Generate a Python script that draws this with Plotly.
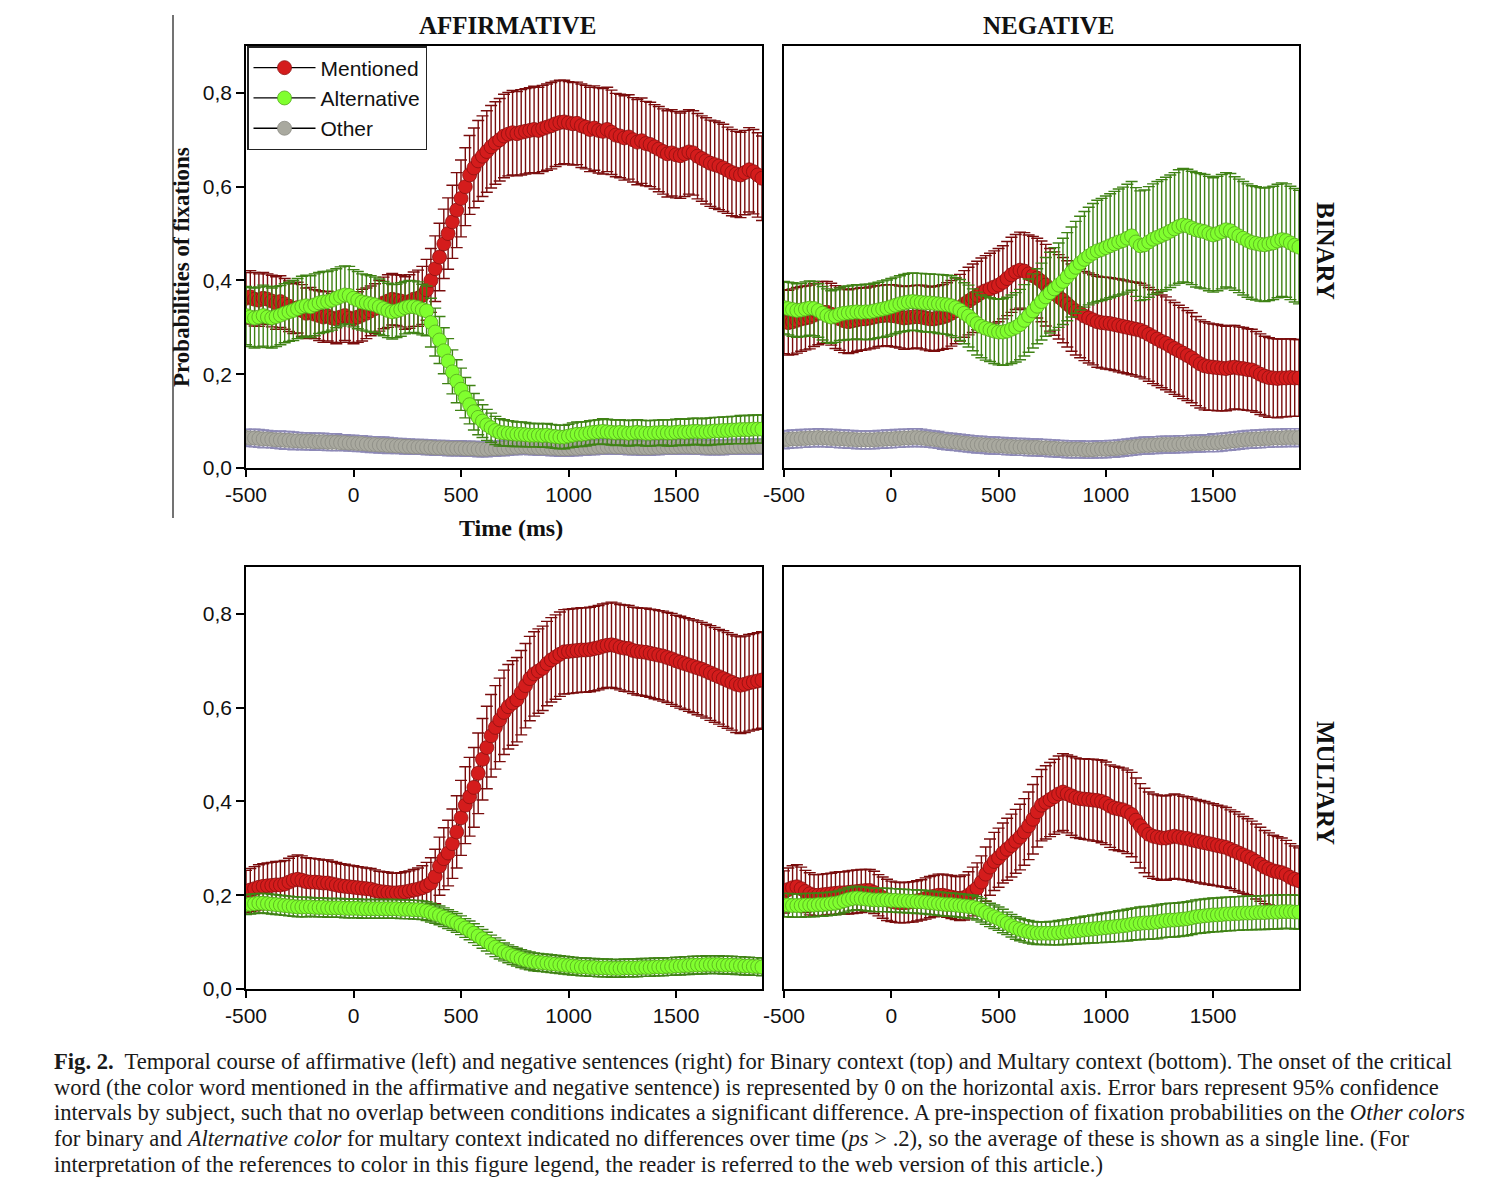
import plotly.graph_objects as go

# ---------------- data ----------------
TIME = list(range(-500, 1901, 20))  # 20 ms bins, 121 points
X_TICKS = [-500, 0, 500, 1000, 1500]
X_TICK_TEXT = ["-500", "0", "500", "1000", "1500"]
Y_TICKS = [0.0, 0.2, 0.4, 0.6, 0.8]
Y_TICK_TEXT = ["0,0", "0,2", "0,4", "0,6", "0,8"]
SERIES_NAMES = ["Mentioned", "Alternative", "Other"]

# Binary context, affirmative (top-left)
TL_MENT = [0.362, 0.365, 0.360, 0.358, 0.362, 0.360, 0.356, 0.352, 0.355, 0.350,
           0.345, 0.340, 0.342, 0.336, 0.330, 0.332, 0.328, 0.325, 0.322, 0.324,
           0.320, 0.318, 0.322, 0.325, 0.320, 0.318, 0.322, 0.326, 0.330, 0.335,
           0.340, 0.346, 0.352, 0.356, 0.360, 0.358, 0.356, 0.352, 0.355, 0.360,
           0.362, 0.368, 0.380, 0.400, 0.425, 0.450, 0.478, 0.500, 0.525, 0.550,
           0.575, 0.600, 0.625, 0.640, 0.655, 0.665, 0.675, 0.685, 0.693, 0.700,
           0.708, 0.712, 0.715, 0.713, 0.716, 0.718, 0.720, 0.722, 0.720, 0.724,
           0.727, 0.730, 0.734, 0.737, 0.738, 0.736, 0.734, 0.735, 0.730, 0.727,
           0.722, 0.725, 0.720, 0.718, 0.722, 0.716, 0.710, 0.708, 0.704, 0.706,
           0.700, 0.695, 0.698, 0.692, 0.690, 0.685, 0.680, 0.675, 0.670, 0.672,
           0.668, 0.666, 0.670, 0.674, 0.672, 0.665, 0.660, 0.655, 0.650, 0.647,
           0.644, 0.640, 0.635, 0.630, 0.627, 0.625, 0.630, 0.636, 0.632, 0.625,
           0.618]
TL_MENT_ERR = [0.055, 0.056, 0.057, 0.056, 0.055, 0.054, 0.055, 0.056, 0.055, 0.054,
               0.054, 0.053, 0.054, 0.055, 0.054, 0.053, 0.052, 0.053, 0.054, 0.053,
               0.052, 0.053, 0.054, 0.053, 0.052, 0.053, 0.054, 0.055, 0.054, 0.053,
               0.053, 0.054, 0.055, 0.056, 0.055, 0.054, 0.055, 0.056, 0.057, 0.058,
               0.060, 0.062, 0.065, 0.068, 0.070, 0.072, 0.074, 0.076, 0.078, 0.080,
               0.082, 0.083, 0.084, 0.085, 0.086, 0.086, 0.087, 0.088, 0.088, 0.088,
               0.089, 0.089, 0.090, 0.090, 0.091, 0.091, 0.091, 0.092, 0.092, 0.092,
               0.092, 0.092, 0.091, 0.090, 0.089, 0.088, 0.088, 0.088, 0.089, 0.089,
               0.090, 0.090, 0.091, 0.091, 0.090, 0.090, 0.089, 0.089, 0.090, 0.090,
               0.090, 0.091, 0.091, 0.090, 0.090, 0.090, 0.091, 0.091, 0.092, 0.092,
               0.092, 0.091, 0.091, 0.090, 0.090, 0.091, 0.091, 0.092, 0.092, 0.093,
               0.093, 0.093, 0.092, 0.092, 0.091, 0.091, 0.090, 0.090, 0.090, 0.090,
               0.090]
TL_ALT = [0.325, 0.322, 0.320, 0.322, 0.325, 0.322, 0.320, 0.323, 0.326, 0.330,
          0.333, 0.336, 0.340, 0.344, 0.346, 0.344, 0.348, 0.352, 0.354, 0.355,
          0.358, 0.362, 0.366, 0.369, 0.368, 0.362, 0.358, 0.354, 0.352, 0.350,
          0.348, 0.344, 0.340, 0.336, 0.333, 0.335, 0.338, 0.342, 0.344, 0.344,
          0.342, 0.338, 0.335, 0.310, 0.290, 0.273, 0.250, 0.228, 0.205, 0.185,
          0.168, 0.150, 0.135, 0.120, 0.108, 0.100, 0.092, 0.086, 0.080, 0.076,
          0.075, 0.074, 0.073, 0.072, 0.072, 0.071, 0.070, 0.070, 0.070, 0.069,
          0.070, 0.068, 0.067, 0.066, 0.066, 0.068, 0.070, 0.072, 0.072, 0.073,
          0.075, 0.076, 0.077, 0.078, 0.077, 0.076, 0.075, 0.076, 0.075, 0.074,
          0.075, 0.076, 0.075, 0.074, 0.074, 0.075, 0.075, 0.076, 0.075, 0.075,
          0.076, 0.077, 0.076, 0.077, 0.078, 0.078, 0.077, 0.077, 0.078, 0.079,
          0.079, 0.080, 0.080, 0.081, 0.081, 0.082, 0.082, 0.082, 0.083, 0.083,
          0.083]
TL_ALT_ERR = [0.062, 0.063, 0.064, 0.064, 0.065, 0.065, 0.064, 0.064, 0.063, 0.063,
              0.063, 0.064, 0.064, 0.065, 0.065, 0.066, 0.066, 0.065, 0.065, 0.064,
              0.064, 0.063, 0.063, 0.062, 0.062, 0.061, 0.061, 0.060, 0.060, 0.060,
              0.059, 0.059, 0.058, 0.058, 0.058, 0.057, 0.057, 0.056, 0.056, 0.055,
              0.055, 0.054, 0.053, 0.052, 0.051, 0.050, 0.049, 0.048, 0.047, 0.046,
              0.045, 0.043, 0.041, 0.039, 0.037, 0.035, 0.033, 0.031, 0.030, 0.029,
              0.028, 0.027, 0.027, 0.026, 0.026, 0.026, 0.025, 0.025, 0.025, 0.025,
              0.025, 0.025, 0.025, 0.025, 0.025, 0.025, 0.026, 0.026, 0.026, 0.026,
              0.026, 0.026, 0.026, 0.027, 0.027, 0.027, 0.027, 0.027, 0.027, 0.027,
              0.027, 0.027, 0.027, 0.027, 0.027, 0.027, 0.027, 0.027, 0.028, 0.028,
              0.028, 0.028, 0.028, 0.028, 0.028, 0.028, 0.028, 0.029, 0.029, 0.029,
              0.029, 0.029, 0.029, 0.029, 0.029, 0.030, 0.030, 0.030, 0.030, 0.030,
              0.030]
TL_OTH = [0.065, 0.064, 0.064, 0.063, 0.062, 0.062, 0.061, 0.060, 0.060, 0.059,
          0.059, 0.058, 0.058, 0.057, 0.057, 0.057, 0.056, 0.056, 0.056, 0.055,
          0.055, 0.055, 0.054, 0.054, 0.053, 0.053, 0.052, 0.052, 0.051, 0.050,
          0.050, 0.049, 0.049, 0.048, 0.048, 0.047, 0.047, 0.046, 0.046, 0.045,
          0.045, 0.045, 0.044, 0.044, 0.043, 0.043, 0.043, 0.042, 0.042, 0.042,
          0.042, 0.041, 0.041, 0.041, 0.040, 0.040, 0.040, 0.041, 0.041, 0.042,
          0.042, 0.043, 0.044, 0.044, 0.045, 0.045, 0.044, 0.044, 0.043, 0.043,
          0.043, 0.042, 0.042, 0.041, 0.041, 0.041, 0.042, 0.042, 0.043, 0.043,
          0.044, 0.044, 0.045, 0.045, 0.046, 0.046, 0.045, 0.045, 0.045, 0.044,
          0.044, 0.044, 0.043, 0.043, 0.043, 0.044, 0.044, 0.045, 0.045, 0.045,
          0.045, 0.046, 0.046, 0.046, 0.045, 0.045, 0.045, 0.044, 0.044, 0.044,
          0.044, 0.044, 0.045, 0.045, 0.045, 0.046, 0.046, 0.046, 0.046, 0.046,
          0.046]
TL_OTH_ERR = [0.018, 0.018, 0.019, 0.019, 0.019, 0.018, 0.018, 0.018, 0.019, 0.019,
              0.019, 0.019, 0.018, 0.018, 0.018, 0.018, 0.018, 0.018, 0.018, 0.018,
              0.018, 0.018, 0.017, 0.017, 0.017, 0.017, 0.017, 0.017, 0.017, 0.017,
              0.017, 0.017, 0.017, 0.017, 0.016, 0.016, 0.016, 0.016, 0.016, 0.016,
              0.016, 0.016, 0.016, 0.016, 0.016, 0.016, 0.016, 0.016, 0.016, 0.016,
              0.016, 0.016, 0.016, 0.016, 0.016, 0.016, 0.016, 0.016, 0.016, 0.016,
              0.016, 0.016, 0.016, 0.016, 0.016, 0.016, 0.016, 0.016, 0.016, 0.016,
              0.016, 0.016, 0.016, 0.016, 0.016, 0.016, 0.016, 0.016, 0.016, 0.016,
              0.016, 0.016, 0.016, 0.016, 0.016, 0.016, 0.016, 0.016, 0.016, 0.016,
              0.016, 0.016, 0.016, 0.016, 0.016, 0.016, 0.016, 0.016, 0.016, 0.016,
              0.016, 0.016, 0.016, 0.016, 0.016, 0.016, 0.016, 0.016, 0.016, 0.016,
              0.016, 0.016, 0.016, 0.016, 0.016, 0.016, 0.016, 0.016, 0.016, 0.016,
              0.016]

# Binary context, negative (top-right)
TR_MENT = [0.312, 0.310, 0.312, 0.315, 0.318, 0.320, 0.322, 0.326, 0.330, 0.332,
           0.332, 0.328, 0.322, 0.318, 0.314, 0.312, 0.314, 0.316, 0.318, 0.318,
           0.320, 0.322, 0.324, 0.325, 0.326, 0.325, 0.324, 0.322, 0.320, 0.321,
           0.322, 0.323, 0.322, 0.320, 0.318, 0.318, 0.320, 0.322, 0.325, 0.330,
           0.335, 0.342, 0.350, 0.356, 0.362, 0.368, 0.374, 0.378, 0.382, 0.386,
           0.390, 0.396, 0.404, 0.412, 0.418, 0.422, 0.420, 0.414, 0.410, 0.405,
           0.398, 0.390, 0.380, 0.372, 0.365, 0.358, 0.350, 0.342, 0.335, 0.330,
           0.324, 0.320, 0.316, 0.312, 0.310, 0.309, 0.308, 0.306, 0.304, 0.302,
           0.300, 0.298, 0.296, 0.294, 0.290, 0.285, 0.280, 0.275, 0.270, 0.266,
           0.260, 0.255, 0.250, 0.245, 0.240, 0.235, 0.228, 0.222, 0.218, 0.216,
           0.215, 0.214, 0.213, 0.212, 0.214, 0.215, 0.213, 0.212, 0.210, 0.209,
           0.205, 0.200, 0.196, 0.193, 0.192, 0.191, 0.192, 0.192, 0.193, 0.192,
           0.192]
TR_MENT_ERR = [0.068, 0.069, 0.070, 0.070, 0.069, 0.068, 0.068, 0.067, 0.067, 0.066,
               0.066, 0.066, 0.067, 0.067, 0.068, 0.068, 0.068, 0.067, 0.067, 0.066,
               0.066, 0.066, 0.065, 0.065, 0.065, 0.066, 0.066, 0.066, 0.067, 0.067,
               0.067, 0.067, 0.068, 0.068, 0.068, 0.069, 0.069, 0.069, 0.070, 0.070,
               0.070, 0.071, 0.071, 0.072, 0.073, 0.073, 0.074, 0.075, 0.076, 0.077,
               0.078, 0.078, 0.079, 0.080, 0.080, 0.081, 0.082, 0.083, 0.084, 0.085,
               0.086, 0.087, 0.088, 0.089, 0.090, 0.091, 0.092, 0.093, 0.094, 0.095,
               0.095, 0.096, 0.096, 0.097, 0.097, 0.098, 0.098, 0.098, 0.099, 0.099,
               0.099, 0.099, 0.100, 0.100, 0.100, 0.100, 0.100, 0.099, 0.099, 0.099,
               0.098, 0.098, 0.097, 0.097, 0.096, 0.096, 0.095, 0.094, 0.094, 0.093,
               0.092, 0.092, 0.091, 0.090, 0.090, 0.089, 0.088, 0.088, 0.087, 0.087,
               0.086, 0.086, 0.085, 0.085, 0.084, 0.084, 0.083, 0.083, 0.083, 0.082,
               0.082]
TR_ALT = [0.342, 0.340, 0.338, 0.336, 0.337, 0.339, 0.341, 0.340, 0.336, 0.330,
          0.325, 0.322, 0.324, 0.328, 0.330, 0.331, 0.332, 0.333, 0.332, 0.333,
          0.333, 0.335, 0.337, 0.339, 0.341, 0.344, 0.347, 0.350, 0.352, 0.354,
          0.355, 0.354, 0.353, 0.352, 0.352, 0.351, 0.350, 0.349, 0.348, 0.346,
          0.342, 0.337, 0.330, 0.324, 0.316, 0.308, 0.302, 0.298, 0.295, 0.292,
          0.290, 0.290, 0.292, 0.296, 0.300, 0.306, 0.315, 0.325, 0.335, 0.345,
          0.355, 0.365, 0.374, 0.382, 0.390, 0.398, 0.408, 0.418, 0.428, 0.437,
          0.445, 0.452, 0.458, 0.463, 0.466, 0.470, 0.474, 0.478, 0.482, 0.485,
          0.490, 0.495, 0.482, 0.474, 0.476, 0.482, 0.488, 0.492, 0.496, 0.500,
          0.505, 0.510, 0.515, 0.518, 0.516, 0.512, 0.508, 0.506, 0.504, 0.500,
          0.497, 0.500, 0.504, 0.508, 0.506, 0.500, 0.495, 0.490, 0.485, 0.481,
          0.479, 0.477, 0.476, 0.478, 0.480, 0.484, 0.487, 0.485, 0.480, 0.475,
          0.471]
TR_ALT_ERR = [0.056, 0.056, 0.057, 0.057, 0.057, 0.058, 0.058, 0.058, 0.057, 0.057,
              0.057, 0.056, 0.056, 0.056, 0.057, 0.057, 0.058, 0.058, 0.058, 0.059,
              0.059, 0.059, 0.059, 0.060, 0.060, 0.060, 0.060, 0.060, 0.061, 0.061,
              0.061, 0.061, 0.062, 0.062, 0.062, 0.062, 0.063, 0.063, 0.063, 0.064,
              0.064, 0.065, 0.065, 0.066, 0.066, 0.067, 0.067, 0.068, 0.068, 0.069,
              0.070, 0.071, 0.072, 0.073, 0.074, 0.075, 0.076, 0.078, 0.079, 0.080,
              0.082, 0.084, 0.086, 0.088, 0.090, 0.092, 0.094, 0.096, 0.098, 0.100,
              0.102, 0.104, 0.106, 0.108, 0.109, 0.110, 0.111, 0.112, 0.113, 0.114,
              0.115, 0.116, 0.116, 0.117, 0.117, 0.118, 0.118, 0.119, 0.119, 0.120,
              0.120, 0.120, 0.121, 0.121, 0.121, 0.121, 0.122, 0.122, 0.122, 0.122,
              0.122, 0.122, 0.122, 0.122, 0.122, 0.121, 0.121, 0.121, 0.121, 0.121,
              0.121, 0.121, 0.121, 0.121, 0.121, 0.121, 0.121, 0.121, 0.121, 0.121,
              0.121]
TR_OTH = [0.060, 0.061, 0.062, 0.062, 0.063, 0.063, 0.064, 0.064, 0.065, 0.064,
          0.064, 0.063, 0.063, 0.062, 0.062, 0.061, 0.061, 0.060, 0.060, 0.060,
          0.060, 0.060, 0.061, 0.061, 0.062, 0.062, 0.063, 0.063, 0.064, 0.064,
          0.065, 0.065, 0.064, 0.063, 0.062, 0.061, 0.060, 0.058, 0.057, 0.056,
          0.055, 0.054, 0.053, 0.052, 0.051, 0.050, 0.050, 0.049, 0.048, 0.048,
          0.047, 0.047, 0.046, 0.046, 0.045, 0.045, 0.045, 0.044, 0.044, 0.044,
          0.043, 0.043, 0.042, 0.042, 0.041, 0.041, 0.040, 0.040, 0.040, 0.040,
          0.039, 0.039, 0.039, 0.040, 0.040, 0.040, 0.041, 0.041, 0.042, 0.043,
          0.044, 0.045, 0.046, 0.047, 0.048, 0.048, 0.049, 0.049, 0.050, 0.050,
          0.050, 0.050, 0.051, 0.051, 0.051, 0.052, 0.052, 0.052, 0.053, 0.053,
          0.054, 0.054, 0.055, 0.056, 0.057, 0.058, 0.059, 0.060, 0.061, 0.061,
          0.062, 0.062, 0.063, 0.063, 0.064, 0.064, 0.064, 0.065, 0.065, 0.065,
          0.065]
TR_OTH_ERR = [0.019, 0.019, 0.019, 0.019, 0.019, 0.019, 0.019, 0.019, 0.019, 0.019,
              0.019, 0.019, 0.019, 0.019, 0.019, 0.019, 0.019, 0.019, 0.019, 0.019,
              0.019, 0.019, 0.019, 0.019, 0.019, 0.019, 0.019, 0.019, 0.019, 0.019,
              0.019, 0.019, 0.019, 0.018, 0.018, 0.018, 0.018, 0.018, 0.018, 0.018,
              0.018, 0.018, 0.018, 0.018, 0.018, 0.018, 0.018, 0.018, 0.018, 0.018,
              0.018, 0.018, 0.018, 0.018, 0.018, 0.018, 0.018, 0.018, 0.018, 0.018,
              0.018, 0.018, 0.018, 0.018, 0.018, 0.018, 0.018, 0.018, 0.018, 0.018,
              0.018, 0.018, 0.018, 0.018, 0.018, 0.018, 0.018, 0.018, 0.018, 0.018,
              0.018, 0.018, 0.018, 0.018, 0.018, 0.018, 0.018, 0.018, 0.018, 0.018,
              0.018, 0.018, 0.018, 0.018, 0.018, 0.018, 0.018, 0.018, 0.018, 0.018,
              0.019, 0.019, 0.019, 0.019, 0.019, 0.019, 0.019, 0.019, 0.019, 0.019,
              0.019, 0.019, 0.019, 0.019, 0.019, 0.019, 0.019, 0.019, 0.019, 0.019,
              0.019]

# Multary context, affirmative (bottom-left)
BL_MENT = [0.208, 0.211, 0.214, 0.217, 0.219, 0.220, 0.221, 0.222, 0.222, 0.224,
           0.228, 0.232, 0.234, 0.232, 0.229, 0.228, 0.228, 0.227, 0.226, 0.226,
           0.224, 0.222, 0.220, 0.219, 0.218, 0.217, 0.216, 0.215, 0.214, 0.213,
           0.210, 0.208, 0.207, 0.206, 0.205, 0.205, 0.206, 0.207, 0.209, 0.211,
           0.213, 0.216, 0.220, 0.226, 0.240, 0.262, 0.278, 0.290, 0.310, 0.335,
           0.365, 0.392, 0.410, 0.430, 0.460, 0.490, 0.515, 0.540, 0.558, 0.574,
           0.590, 0.602, 0.610, 0.617, 0.632, 0.647, 0.662, 0.672, 0.678, 0.684,
           0.694, 0.702, 0.708, 0.714, 0.719, 0.720, 0.721, 0.722, 0.723, 0.723,
           0.724, 0.726, 0.728, 0.731, 0.733, 0.734, 0.732, 0.729, 0.727, 0.726,
           0.722, 0.720, 0.719, 0.718, 0.716, 0.714, 0.712, 0.710, 0.707, 0.704,
           0.700, 0.697, 0.694, 0.691, 0.688, 0.685, 0.682, 0.678, 0.674, 0.670,
           0.666, 0.662, 0.658, 0.654, 0.650, 0.648, 0.650, 0.653, 0.655, 0.657,
           0.659]
BL_MENT_ERR = [0.045, 0.046, 0.047, 0.048, 0.048, 0.049, 0.049, 0.050, 0.050, 0.050,
               0.051, 0.051, 0.052, 0.052, 0.051, 0.051, 0.050, 0.050, 0.049, 0.049,
               0.048, 0.048, 0.047, 0.047, 0.046, 0.046, 0.045, 0.045, 0.044, 0.044,
               0.044, 0.043, 0.043, 0.043, 0.042, 0.042, 0.042, 0.043, 0.043, 0.044,
               0.045, 0.047, 0.050, 0.054, 0.058, 0.062, 0.066, 0.070, 0.074, 0.077,
               0.080, 0.082, 0.084, 0.085, 0.086, 0.087, 0.088, 0.088, 0.089, 0.089,
               0.090, 0.090, 0.090, 0.090, 0.090, 0.090, 0.090, 0.090, 0.090, 0.090,
               0.090, 0.090, 0.090, 0.090, 0.090, 0.090, 0.090, 0.090, 0.090, 0.090,
               0.090, 0.090, 0.090, 0.090, 0.090, 0.091, 0.091, 0.091, 0.092, 0.092,
               0.092, 0.093, 0.093, 0.094, 0.094, 0.095, 0.095, 0.096, 0.096, 0.097,
               0.097, 0.098, 0.098, 0.099, 0.099, 0.100, 0.100, 0.100, 0.101, 0.101,
               0.101, 0.102, 0.102, 0.102, 0.103, 0.103, 0.103, 0.103, 0.103, 0.103,
               0.103]
BL_ALT = [0.180, 0.181, 0.182, 0.183, 0.183, 0.182, 0.181, 0.180, 0.179, 0.178,
          0.177, 0.176, 0.175, 0.175, 0.175, 0.175, 0.174, 0.174, 0.174, 0.173,
          0.173, 0.173, 0.173, 0.172, 0.172, 0.172, 0.172, 0.171, 0.171, 0.171,
          0.171, 0.171, 0.171, 0.171, 0.171, 0.171, 0.170, 0.170, 0.170, 0.169,
          0.169, 0.168, 0.166, 0.163, 0.160, 0.157, 0.153, 0.149, 0.145, 0.141,
          0.136, 0.130, 0.125, 0.119, 0.113, 0.107, 0.101, 0.095, 0.089, 0.084,
          0.079, 0.075, 0.071, 0.068, 0.065, 0.062, 0.060, 0.058, 0.057, 0.056,
          0.055, 0.054, 0.053, 0.052, 0.051, 0.050, 0.049, 0.048, 0.047, 0.047,
          0.046, 0.046, 0.045, 0.045, 0.045, 0.044, 0.044, 0.044, 0.045, 0.045,
          0.045, 0.045, 0.046, 0.046, 0.046, 0.047, 0.047, 0.047, 0.048, 0.048,
          0.049, 0.049, 0.050, 0.050, 0.051, 0.051, 0.051, 0.052, 0.052, 0.052,
          0.052, 0.051, 0.051, 0.051, 0.050, 0.050, 0.049, 0.049, 0.048, 0.048,
          0.047]
BL_ALT_ERR = [0.021, 0.021, 0.021, 0.021, 0.021, 0.021, 0.021, 0.021, 0.021, 0.021,
              0.021, 0.021, 0.021, 0.021, 0.021, 0.020, 0.020, 0.020, 0.020, 0.020,
              0.020, 0.020, 0.020, 0.020, 0.020, 0.020, 0.020, 0.020, 0.020, 0.020,
              0.020, 0.020, 0.020, 0.020, 0.020, 0.020, 0.020, 0.020, 0.020, 0.020,
              0.020, 0.020, 0.020, 0.020, 0.020, 0.020, 0.020, 0.020, 0.020, 0.020,
              0.020, 0.020, 0.020, 0.020, 0.020, 0.020, 0.020, 0.020, 0.020, 0.020,
              0.019, 0.019, 0.019, 0.019, 0.019, 0.019, 0.019, 0.019, 0.019, 0.019,
              0.019, 0.019, 0.019, 0.019, 0.019, 0.019, 0.019, 0.019, 0.019, 0.019,
              0.019, 0.019, 0.019, 0.019, 0.019, 0.019, 0.019, 0.019, 0.019, 0.019,
              0.019, 0.019, 0.019, 0.019, 0.019, 0.019, 0.019, 0.019, 0.019, 0.019,
              0.019, 0.019, 0.019, 0.019, 0.019, 0.019, 0.019, 0.019, 0.019, 0.019,
              0.019, 0.019, 0.019, 0.019, 0.019, 0.019, 0.019, 0.019, 0.019, 0.019,
              0.019]

# Multary context, negative (bottom-right)
BR_MENT = [0.207, 0.212, 0.216, 0.218, 0.214, 0.208, 0.203, 0.200, 0.200, 0.201,
           0.202, 0.203, 0.204, 0.205, 0.205, 0.206, 0.207, 0.208, 0.209, 0.210,
           0.210, 0.206, 0.200, 0.195, 0.190, 0.187, 0.185, 0.184, 0.184, 0.185,
           0.186, 0.188, 0.190, 0.193, 0.196, 0.198, 0.200, 0.200, 0.198, 0.196,
           0.194, 0.193, 0.195, 0.200, 0.208, 0.215, 0.228, 0.245, 0.260, 0.272,
           0.280, 0.290, 0.298, 0.306, 0.315, 0.324, 0.335, 0.348, 0.362, 0.378,
           0.392, 0.398, 0.404, 0.410, 0.416, 0.420, 0.416, 0.412, 0.408, 0.406,
           0.405, 0.404, 0.403, 0.402, 0.400, 0.396, 0.390, 0.386, 0.384, 0.382,
           0.378, 0.372, 0.360, 0.348, 0.338, 0.330, 0.326, 0.324, 0.322, 0.322,
           0.324, 0.326, 0.324, 0.322, 0.321, 0.318, 0.316, 0.314, 0.312, 0.310,
           0.308, 0.306, 0.304, 0.302, 0.298, 0.294, 0.290, 0.286, 0.282, 0.278,
           0.272, 0.266, 0.260, 0.256, 0.252, 0.250, 0.248, 0.244, 0.238, 0.234,
           0.231]
BR_MENT_ERR = [0.045, 0.046, 0.047, 0.047, 0.046, 0.045, 0.045, 0.044, 0.044, 0.044,
               0.044, 0.044, 0.045, 0.045, 0.045, 0.046, 0.046, 0.046, 0.046, 0.045,
               0.045, 0.045, 0.044, 0.044, 0.044, 0.043, 0.043, 0.043, 0.043, 0.043,
               0.043, 0.043, 0.043, 0.044, 0.044, 0.044, 0.045, 0.045, 0.045, 0.046,
               0.046, 0.047, 0.048, 0.050, 0.052, 0.054, 0.056, 0.058, 0.060, 0.062,
               0.063, 0.064, 0.066, 0.067, 0.068, 0.070, 0.071, 0.072, 0.074, 0.075,
               0.076, 0.078, 0.079, 0.080, 0.081, 0.082, 0.083, 0.084, 0.085, 0.085,
               0.086, 0.086, 0.087, 0.087, 0.088, 0.088, 0.088, 0.089, 0.089, 0.089,
               0.089, 0.090, 0.090, 0.090, 0.090, 0.090, 0.090, 0.090, 0.090, 0.090,
               0.090, 0.090, 0.090, 0.089, 0.089, 0.089, 0.088, 0.088, 0.088, 0.087,
               0.087, 0.086, 0.086, 0.085, 0.084, 0.084, 0.083, 0.082, 0.081, 0.080,
               0.080, 0.079, 0.078, 0.077, 0.076, 0.075, 0.074, 0.073, 0.072, 0.071,
               0.070]
BR_ALT = [0.179, 0.179, 0.178, 0.178, 0.178, 0.179, 0.179, 0.179, 0.180, 0.180,
          0.181, 0.182, 0.183, 0.185, 0.188, 0.191, 0.193, 0.194, 0.193, 0.192,
          0.191, 0.190, 0.190, 0.190, 0.190, 0.189, 0.189, 0.188, 0.188, 0.187,
          0.187, 0.186, 0.186, 0.185, 0.184, 0.183, 0.182, 0.181, 0.180, 0.180,
          0.179, 0.178, 0.177, 0.176, 0.175, 0.172, 0.168, 0.163, 0.158, 0.154,
          0.150, 0.145, 0.140, 0.135, 0.130, 0.127, 0.124, 0.122, 0.120, 0.119,
          0.119, 0.119, 0.119, 0.119, 0.120, 0.121, 0.122, 0.123, 0.124, 0.125,
          0.126, 0.127, 0.128, 0.129, 0.130, 0.131, 0.132, 0.133, 0.134, 0.135,
          0.136, 0.138, 0.139, 0.140, 0.141, 0.141, 0.142, 0.143, 0.145, 0.146,
          0.147, 0.147, 0.148, 0.149, 0.150, 0.152, 0.154, 0.155, 0.156, 0.157,
          0.158, 0.158, 0.159, 0.160, 0.160, 0.161, 0.161, 0.162, 0.162, 0.162,
          0.163, 0.163, 0.163, 0.164, 0.164, 0.164, 0.165, 0.165, 0.165, 0.164,
          0.164]
BR_ALT_ERR = [0.025, 0.025, 0.025, 0.025, 0.025, 0.025, 0.025, 0.025, 0.025, 0.025,
              0.025, 0.025, 0.025, 0.025, 0.025, 0.025, 0.025, 0.025, 0.025, 0.025,
              0.025, 0.025, 0.025, 0.025, 0.025, 0.025, 0.025, 0.025, 0.025, 0.025,
              0.025, 0.025, 0.025, 0.025, 0.025, 0.025, 0.025, 0.025, 0.025, 0.025,
              0.025, 0.025, 0.025, 0.025, 0.025, 0.025, 0.025, 0.025, 0.025, 0.025,
              0.025, 0.025, 0.024, 0.024, 0.024, 0.024, 0.024, 0.024, 0.024, 0.024,
              0.024, 0.024, 0.025, 0.025, 0.026, 0.026, 0.027, 0.027, 0.028, 0.028,
              0.029, 0.029, 0.030, 0.030, 0.031, 0.031, 0.032, 0.032, 0.033, 0.033,
              0.034, 0.034, 0.034, 0.035, 0.035, 0.035, 0.035, 0.036, 0.036, 0.036,
              0.036, 0.036, 0.036, 0.036, 0.036, 0.036, 0.036, 0.036, 0.036, 0.036,
              0.036, 0.036, 0.036, 0.036, 0.036, 0.036, 0.036, 0.036, 0.036, 0.036,
              0.036, 0.036, 0.036, 0.036, 0.036, 0.036, 0.036, 0.036, 0.036, 0.036,
              0.036]

CAPTION_LINES = [
    "<b>Fig. 2.</b>  Temporal course of affirmative (left) and negative sentences (right) for Binary context (top) and Multary context (bottom). The onset of the critical",
    "word (the color word mentioned in the affirmative and negative sentence) is represented by 0 on the horizontal axis. Error bars represent 95% confidence",
    "intervals by subject, such that no overlap between conditions indicates a significant difference. A pre-inspection of fixation probabilities on the <i>Other colors</i>",
    "for binary and <i>Alternative color</i> for multary context indicated no differences over time (<i>ps</i> > .2), so the average of these is shown as a single line. (For",
    "interpretation of the references to color in this figure legend, the reader is referred to the web version of this article.)",
]

for arr in [TL_MENT, TL_MENT_ERR, TL_ALT, TL_ALT_ERR, TL_OTH, TL_OTH_ERR,
            TR_MENT, TR_MENT_ERR, TR_ALT, TR_ALT_ERR, TR_OTH, TR_OTH_ERR,
            BL_MENT, BL_MENT_ERR, BL_ALT, BL_ALT_ERR,
            BR_MENT, BR_MENT_ERR, BR_ALT, BR_ALT_ERR]:
    assert len(arr) == len(TIME), len(arr)

# ---------------- layout helpers ----------------
W, H = 1486, 1204
def px(x):
    return x / W
def py(y):
    return 1 - y / H

STYLE = {
    "Mentioned": dict(fill="#d41c1c", edge="#8e1010", err="#7a0c0c", rank=1),
    "Alternative": dict(fill="#80ff2e", edge="#55a81e", err="#3f8214", rank=2),
    "Other": dict(fill="#a9a99f", edge="#8c8c84", err="#8d89b6", rank=3),
}

fig = go.Figure()

def add_series(name, y, err, xa, ya, show):
    s = STYLE[name]
    fig.add_trace(go.Scatter(
        x=TIME, y=y, name=name, mode="lines+markers",
        xaxis=xa, yaxis=ya, showlegend=show, legendgroup=name, legendrank=s["rank"],
        line=dict(color="black", width=1.3),
        marker=dict(size=14, color=s["fill"], line=dict(color=s["edge"], width=0.8)),
        error_y=dict(type="data", array=err, visible=True, color=s["err"],
                     thickness=1.4, width=6),
    ))

add_series("Other", TL_OTH, TL_OTH_ERR, "x", "y", True)
add_series("Mentioned", TL_MENT, TL_MENT_ERR, "x", "y", True)
add_series("Alternative", TL_ALT, TL_ALT_ERR, "x", "y", True)

add_series("Other", TR_OTH, TR_OTH_ERR, "x2", "y2", False)
add_series("Mentioned", TR_MENT, TR_MENT_ERR, "x2", "y2", False)
add_series("Alternative", TR_ALT, TR_ALT_ERR, "x2", "y2", False)

add_series("Mentioned", BL_MENT, BL_MENT_ERR, "x3", "y3", False)
add_series("Alternative", BL_ALT, BL_ALT_ERR, "x3", "y3", False)

add_series("Mentioned", BR_MENT, BR_MENT_ERR, "x4", "y4", False)
add_series("Alternative", BR_ALT, BR_ALT_ERR, "x4", "y4", False)

TICK_FONT = dict(family="Liberation Sans, Arial, sans-serif", size=21, color="#111")

def xaxis_def(x0, x1, anchor):
    return dict(domain=[px(x0), px(x1)], anchor=anchor, range=[-500, 1900],
                tickvals=X_TICKS, ticktext=X_TICK_TEXT, ticks="outside", ticklen=7,
                tickwidth=1.5, tickcolor="black", showline=True, linecolor="black",
                linewidth=1.5, mirror=True, showgrid=False, zeroline=False,
                tickfont=TICK_FONT, fixedrange=True, automargin=False)

def yaxis_def(y_top, y_bot, anchor, labels):
    d = dict(domain=[py(y_bot), py(y_top)], anchor=anchor, range=[0, 0.9],
             showline=True, linecolor="black", linewidth=1.5, mirror=True,
             showgrid=False, zeroline=False, tickfont=TICK_FONT, fixedrange=True,
             automargin=False)
    if labels:
        d.update(tickvals=Y_TICKS, ticktext=Y_TICK_TEXT, ticks="outside", ticklen=8,
                 tickwidth=1.5, tickcolor="black")
    else:
        d.update(showticklabels=False, ticks="")
    return d

LX0, LX1, RX0, RX1 = 246, 762, 784, 1299
TY0, TY1, BY0, BY1 = 46, 468, 567, 989

SERIF = "Liberation Serif, Times New Roman, serif"
serif_bold = dict(family=SERIF, size=25, color="#111")

annotations = [
    dict(text="<b>AFFIRMATIVE</b>", x=px(507), y=py(25), font=serif_bold),
    dict(text="<b>NEGATIVE</b>", x=px(1049), y=py(26), font=serif_bold),
    dict(text="<b>BINARY</b>", x=px(1326), y=py(251), textangle=90, font=serif_bold),
    dict(text="<b>MULTARY</b>", x=px(1326), y=py(783), textangle=90, font=serif_bold),
    dict(text="<b>Probabilities of fixations</b>", x=px(181), y=py(267), textangle=-90,
         font=dict(family=SERIF, size=23, color="#111")),
    dict(text="<b>Time (ms)</b>", x=px(511), y=py(528),
         font=dict(family=SERIF, size=24, color="#111")),
]
cap_y = [1061, 1087, 1112, 1138, 1164]
for line, yy in zip(CAPTION_LINES, cap_y):
    annotations.append(dict(text=line, x=px(52), y=py(yy), xanchor="left",
                            font=dict(family=SERIF, size=22.6, color="#1a1a1a")))
for a in annotations:
    a.update(xref="paper", yref="paper", showarrow=False)
    a.setdefault("xanchor", "center")
    a.setdefault("yanchor", "middle")

fig.update_layout(
    width=W, height=H, autosize=False, margin=dict(l=0, r=0, t=0, b=0, pad=0),
    paper_bgcolor="white", plot_bgcolor="white",
    xaxis=xaxis_def(LX0, LX1, "y"), yaxis=yaxis_def(TY0, TY1, "x", True),
    xaxis2=xaxis_def(RX0, RX1, "y2"), yaxis2=yaxis_def(TY0, TY1, "x2", False),
    xaxis3=xaxis_def(LX0, LX1, "y3"), yaxis3=yaxis_def(BY0, BY1, "x3", True),
    xaxis4=xaxis_def(RX0, RX1, "y4"), yaxis4=yaxis_def(BY0, BY1, "x4", False),
    legend=dict(x=px(247), y=py(46), xanchor="left", yanchor="top",
                bgcolor="white", bordercolor="#222", borderwidth=1.5,
                font=dict(family="Liberation Sans, Arial, sans-serif", size=21, color="#111"),
                traceorder="normal", itemwidth=62, tracegroupgap=0),
    annotations=annotations,
    shapes=[dict(type="line", xref="paper", yref="paper", x0=px(173), x1=px(173),
                 y0=py(15), y1=py(518), line=dict(color="#444", width=1.5))],
    showlegend=True,
)

fig.write_html(
    "out.html", config={"displayModeBar": False},
    post_script=("document.documentElement.style.margin='0';"
                 "document.documentElement.style.padding='0';"
                 "document.documentElement.style.overflow='hidden';"
                 "document.body.style.margin='0';"
                 "document.body.style.padding='0';"
                 "document.body.style.overflow='hidden';"))
